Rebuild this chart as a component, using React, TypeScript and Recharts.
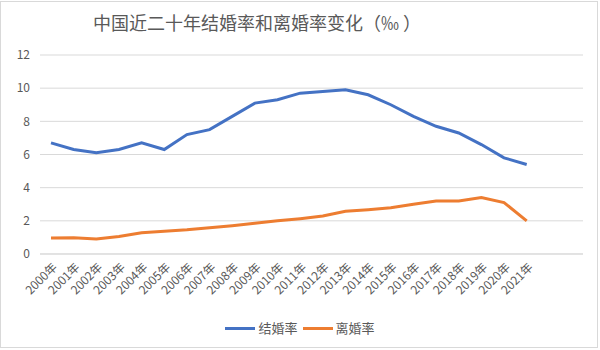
import { CartesianGrid, Legend, Line, LineChart, XAxis, YAxis } from "recharts";

// 年份（末尾两个空类目对应原图右侧的空白）
const years = [
  "2000年", "2001年", "2002年", "2003年", "2004年", "2005年", "2006年", "2007年",
  "2008年", "2009年", "2010年", "2011年", "2012年", "2013年", "2014年", "2015年",
  "2016年", "2017年", "2018年", "2019年", "2020年", "2021年", "", "",
];

// 结婚率（‰）
const marriageRate = [
  6.7, 6.3, 6.1, 6.3, 6.7, 6.3, 7.2, 7.5, 8.3, 9.1, 9.3, 9.7,
  9.8, 9.9, 9.6, 9.0, 8.3, 7.7, 7.3, 6.6, 5.8, 5.4,
];

// 离婚率（‰）
const divorceRate = [
  0.96, 0.98, 0.9, 1.05, 1.28, 1.37, 1.46, 1.59, 1.71, 1.85, 2.0, 2.13,
  2.29, 2.58, 2.67, 2.79, 3.0, 3.2, 3.2, 3.4, 3.1, 2.0,
];

const yTicks = [0, 2, 4, 6, 8, 10, 12];

const seriesNames = ["结婚率", "离婚率"];

const FONT = '"Noto Sans CJK SC", "Noto Sans", sans-serif';
const TEXT = "#595959";
const GRID = "#d9d9d9";
const BLUE = "#4472C4";
const ORANGE = "#ED7D31";

const data = years.map((year, i) => ({
  year,
  marriage: marriageRate[i],
  divorce: divorceRate[i],
}));

/** 斜 45° 的年份刻度 */
function AngledTick({ x, y, payload }: any) {
  if (!payload || !payload.value) return null;
  const ax = x + 4;
  const ay = y + 9;
  return (
    <text
      x={ax}
      y={ay}
      dy="0.35em"
      textAnchor="end"
      fill={TEXT}
      fontSize={12}
      fontFamily={FONT}
      transform={`rotate(-45 ${ax} ${ay})`}
    >
      {payload.value}
    </text>
  );
}

function LegendContent({ payload }: any) {
  const items = [...(payload ?? [])].sort(
    (a: any, b: any) => seriesNames.indexOf(a.value) - seriesNames.indexOf(b.value),
  );
  return (
    <div
      style={{
        display: "flex",
        justifyContent: "center",
        gap: 5,
        height: 20,
        lineHeight: "20px",
        fontFamily: FONT,
        fontSize: 13,
        color: TEXT,
      }}
    >
      {items.map((item: any) => (
        <div key={item.value} style={{ display: "flex", alignItems: "center" }}>
          <span
            style={{
              display: "inline-block",
              width: 30,
              height: 3,
              background: item.color,
              marginRight: 3,
            }}
          />
          {item.value}
        </div>
      ))}
    </div>
  );
}

export default function App() {
  return (
    <div
      style={{
        position: "absolute",
        left: 0,
        top: 0,
        width: 600,
        height: 350,
        background: "#fff",
      }}
    >
      <div
        style={{
          position: "absolute",
          left: 0,
          top: 1,
          width: 596,
          height: 345,
          border: `1px solid ${GRID}`,
          pointerEvents: "none",
        }}
      />
      <div
        style={{
          position: "absolute",
          left: 0,
          top: 9,
          width: 514,
          textAlign: "center",
          fontFamily: FONT,
          fontSize: 18,
          lineHeight: "26px",
          color: TEXT,
        }}
      >
        中国近二十年结婚率和离婚率变化（‰ ）
      </div>
      <LineChart
        width={600}
        height={350}
        data={data}
        margin={{ top: 55, right: 17, left: 0, bottom: 12 }}
      >
        <CartesianGrid vertical={false} stroke={GRID} />
        <XAxis
          dataKey="year"
          interval={0}
          height={64}
          padding={{ left: 11, right: 11 }}
          tickLine={false}
          axisLine={{ stroke: GRID }}
          tickSize={0}
          tick={<AngledTick />}
        />
        <YAxis
          width={40}
          domain={[0, 12]}
          ticks={yTicks}
          axisLine={false}
          tickLine={false}
          tickSize={0}
          tickMargin={10}
          tick={{ fill: TEXT, fontSize: 12, fontFamily: FONT }}
        />
        <Legend
          verticalAlign="bottom"
          wrapperStyle={{ left: 0, width: 600 }}
          content={<LegendContent />}
        />
        <Line
          dataKey="marriage"
          name={seriesNames[0]}
          stroke={BLUE}
          strokeWidth={3}
          dot={false}
          isAnimationActive={false}
        />
        <Line
          dataKey="divorce"
          name={seriesNames[1]}
          stroke={ORANGE}
          strokeWidth={3}
          dot={false}
          isAnimationActive={false}
        />
      </LineChart>
    </div>
  );
}
